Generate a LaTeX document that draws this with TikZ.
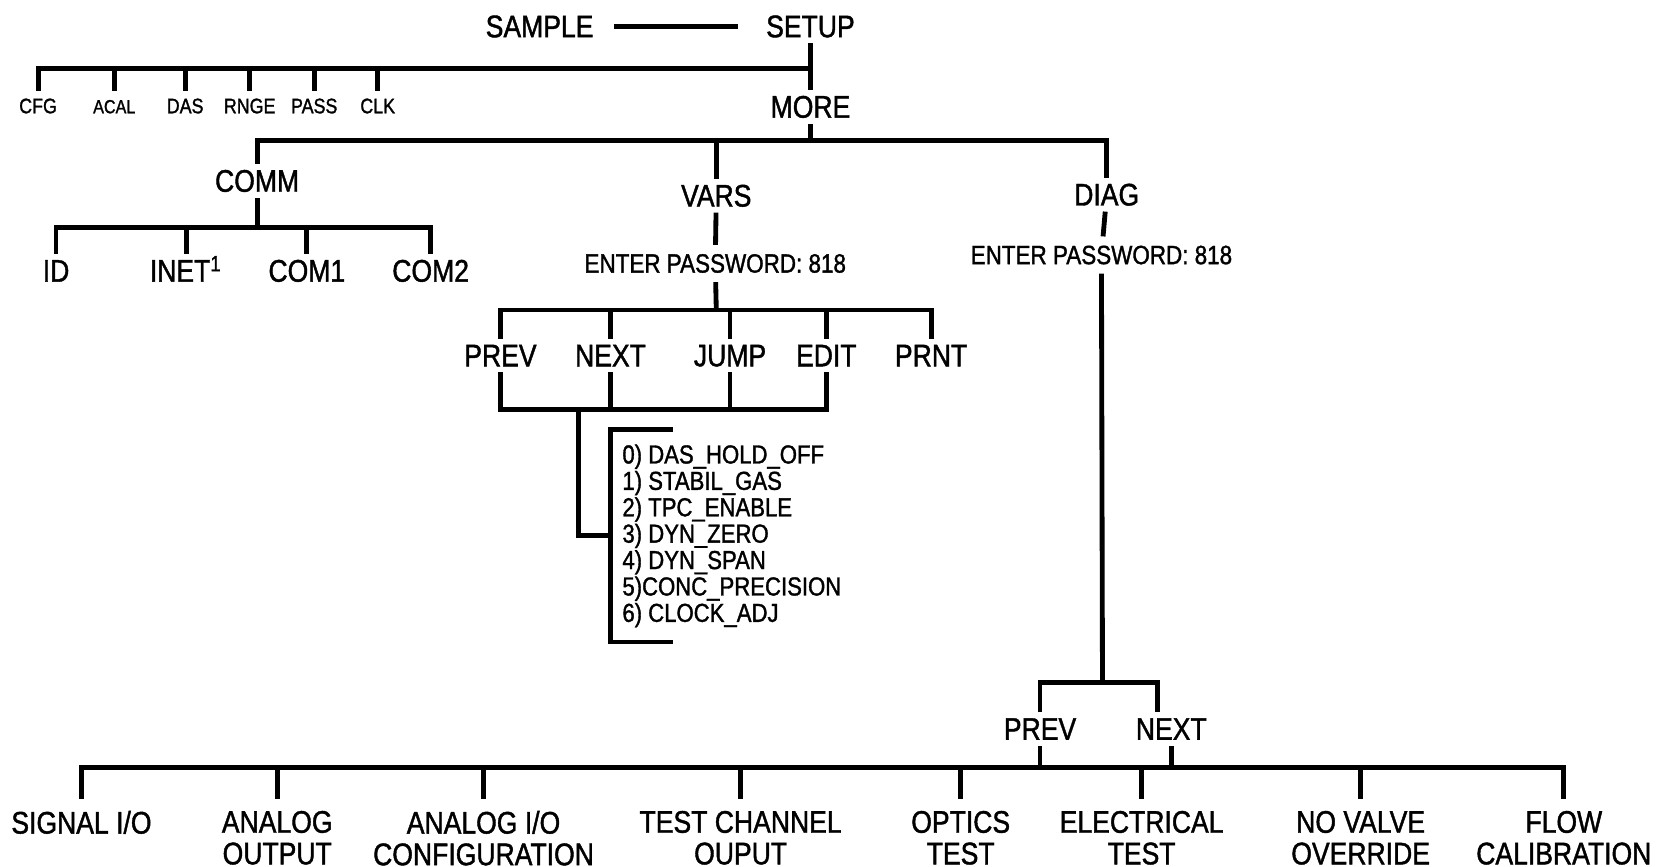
\documentclass[tikz,border=0pt]{standalone}
\usepackage{fontspec}
\setmainfont[FakeStretch=0.85,FakeBold=1.3]{Liberation Sans}
\usepackage{tikz}

\begin{document}
\begin{tikzpicture}[line width=1.3pt]
\tikzstyle{key}=[font=\fontsize{8.4}{8.5}\selectfont,inner xsep=2pt,inner ysep=1pt,
                 text height=5.8pt,text depth=0pt]
\tikzstyle{subkey}=[font=\fontsize{5.65}{5.8}\selectfont,inner sep=1.4pt,
                    text height=4pt,text depth=0pt]
\tikzstyle{pwd}=[font=\fontsize{7.1}{7.2}\selectfont,inner ysep=1.9pt,
                 text height=4.9pt,text depth=0pt]
\tikzstyle{test}=[font=\fontsize{8.4}{8.5}\selectfont,align=center,anchor=north,inner ysep=2.6pt]
\tikzstyle{varlist}=[font=\fontsize{7}{7.1}\selectfont,align=left,anchor=west,
                     inner xsep=0.09cm,inner ysep=3.3pt]
\useasboundingbox (0,0) rectangle (15.68,-8.19);
\node[key] (sample) at (5.10,-0.25) {SAMPLE};
\node[key] (setup) at (7.66,-0.25) {SETUP};
\node[key] (more) at (7.66,-1.01) {MORE};
\node[subkey] (cfg) at (0.36,-1.00) {CFG};
\node[subkey,font=\fontsize{5.1}{5.2}\selectfont] (acal) at (1.08,-1.00) {ACAL};
\node[subkey] (das) at (1.75,-1.00) {DAS};
\node[subkey] (rnge) at (2.36,-1.00) {RNGE};
\node[subkey] (pass) at (2.97,-1.00) {PASS};
\node[subkey] (clk) at (3.57,-1.00) {CLK};
\node[key] (comm) at (2.43,-1.71) {COMM};
\node[key] (vars) at (6.77,-1.85) {VARS};
\node[key] (diag) at (10.46,-1.84) {DIAG};
\node[key] (id) at (0.53,-2.56) {ID};
\node[key] (inet) at (1.76,-2.56) {INET\textsuperscript{1}};
\node[key] (com1) at (2.90,-2.56) {COM1};
\node[key] (com2) at (4.07,-2.56) {COM2};
\node[pwd] (varpw) at (6.76,-2.49) {ENTER PASSWORD: 818};
\node[key] (vprev) at (4.73,-3.36) {PREV};
\node[key] (vnext) at (5.77,-3.36) {NEXT};
\node[key] (vjump) at (6.90,-3.36) {JUMP};
\node[key] (vedit) at (7.81,-3.36) {EDIT};
\node[key] (vprnt) at (8.80,-3.36) {PRNT};
\node[varlist] (vlist) at (5.77,-5.065) {0) DAS\_HOLD\_OFF\\1) STABIL\_GAS\\2) TPC\_ENABLE\\3) DYN\_ZERO\\
  4) DYN\_SPAN\\5)CONC\_PRECISION\\6) CLOCK\_ADJ};
\node[pwd] (diagpw) at (10.41,-2.41) {ENTER PASSWORD: 818};
\node[key] (dprev) at (9.83,-6.89) {PREV};
\node[key] (dnext) at (11.07,-6.89) {NEXT};
\node[test] (sigio) at (0.77,-7.55) {SIGNAL I/O};
\node[test] (aout) at (2.62,-7.55) {ANALOG\\OUTPUT};
\node[test] (aio) at (4.57,-7.55) {ANALOG I/O\\CONFIGURATION};
\node[test] (tchan) at (7.00,-7.55) {TEST CHANNEL\\OUPUT};
\node[test] (optic) at (9.08,-7.55) {OPTICS\\TEST};
\node[test] (elec) at (10.79,-7.55) {ELECTRICAL\\TEST};
\node[test] (noval) at (12.86,-7.55) {NO VALVE\\OVERRIDE};
\node[test] (flow) at (14.78,-7.55) {FLOW\\CALIBRATION};
\coordinate (setbar) at (7.66,-0.65);
\coordinate (morebar) at (7.66,-1.33);
\coordinate (commbar) at (2.43,-2.15);
\coordinate (varbar) at (6.77,-2.93);
\coordinate (keybar) at (5.47,-3.87);
\coordinate (diagbar) at (10.42,-6.45);
\coordinate (testbar) at (9.83,-7.25);
\draw[shorten <=0.1cm,shorten >=0.17cm] (sample) -- (setup);
\draw (setup) -- (more);
\draw (cfg) |- (setbar);
\foreach \k in {acal,das,rnge,pass,clk} \draw (\k) -- (\k |- setbar);
\draw (more) -- (morebar);
\draw (comm) |- (morebar) -| (diag);
\draw (vars) -- (vars |- morebar);
\draw (comm) -- (commbar);
\draw (id) |- (commbar) -| (com2);
\foreach \k in {inet,com1} \draw (\k) -- (\k |- commbar);
\draw (vars) -- (varpw);
\draw (varpw) -- (varbar);
\draw (vprev) |- (varbar) -| (vprnt);
\foreach \k in {vnext,vjump,vedit} \draw (\k) -- (\k |- varbar);
\draw (vprev) |- (keybar) -| (vedit);
\foreach \k in {vnext,vjump} \draw (\k) -- (\k |- keybar);
\draw (keybar) |- (vlist.west);
\draw ([xshift=0.59cm]vlist.north west) -- (vlist.north west) -- (vlist.south west)
  -- ([xshift=0.59cm]vlist.south west);
\draw (diag) -- (diagpw);
\draw (diagpw) -- (diagbar);
\draw (dprev.north) |- (diagbar) -| ([xshift=-0.13cm]dnext.north);
\draw (dprev) -- (testbar);
\draw (dnext) -- (dnext |- testbar);
\draw (sigio) |- (testbar) -| (flow);
\foreach \k in {aout,aio,tchan,optic,elec,noval} \draw (\k) -- (\k |- testbar);
\end{tikzpicture}
\end{document}
